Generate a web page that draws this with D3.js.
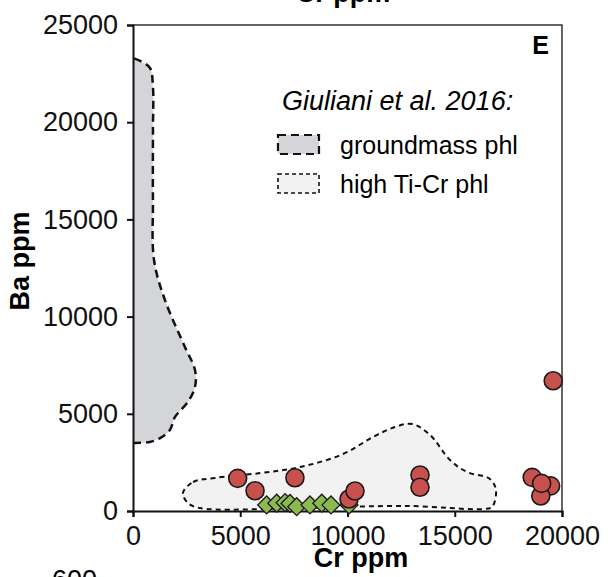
<!DOCTYPE html>
<html>
<head>
<meta charset="utf-8">
<script src="https://cdn.jsdelivr.net/npm/d3@7"></script>
<style>
  body { margin: 0; background: #fff; }
  svg { display: block; font-family: "Liberation Sans", Arial, sans-serif; }
  .axis path, .axis line { stroke: #111; stroke-width: 2px; }
  .axis text { font-size: 27px; fill: #111; }
</style>
</head>
<body>
<div id="chart"></div>
<script>
/* data: Cr (ppm) vs Ba (ppm) */
var xTicks = [0, 5000, 10000, 15000, 20000];
var yTicks = [0, 5000, 10000, 15000, 20000, 25000];

// Giuliani et al. 2016 fields
var groundmassField = [
  [0, 3500], [790, 3550], [1260, 3750], [1720, 4170], [1960, 4840], [2560, 5610],
  [2890, 6380], [2890, 7250], [2420, 8440], [1490, 10850], [980, 12910],
  [930, 16000], [930, 19600], [930, 21810], [790, 22790], [330, 23150], [0, 23300]
];
var highTiCrField = [
  [2330, 930], [2800, 1490], [3820, 1700], [5920, 1950], [7790, 2260], [9790, 2930],
  [11190, 3810], [12210, 4320], [13010, 4480], [13850, 3910], [14780, 2620],
  [15570, 2010], [16640, 1650], [16920, 1080], [16740, 210], [16320, 100],
  [12770, 260], [7790, 150], [3120, 150], [2560, 410]
];

// red circles
var circleCr = [4880, 5690, 7550, 10070, 10350, 13380, 13380, 19590, 18610, 19470, 19010, 19050];
var circleBa = [1680, 1040, 1710, 620, 1030, 1850, 1220, 6700, 1730, 1290, 770, 1420];

// green diamonds
var diamondCr = [6230, 6700, 7090, 7320, 7630, 8250, 8800, 9230, 10070];
var diamondBa = [310, 400, 430, 390, 220, 310, 400, 310, 310];

var legendTitle = "Giuliani et al. 2016:";
var legendLabels = ["groundmass phl", "high Ti-Cr phl"];

var width = 616, height = 577;
var margin = {top: 25, right: 54, bottom: 66, left: 133};

var svg = d3.select("#chart").append("svg")
    .attr("width", width)
    .attr("height", height);

var x = d3.scaleLinear().domain([0, 20000]).range([margin.left, width - margin.right]);
var y = d3.scaleLinear().domain([0, 25000]).range([height - margin.bottom, margin.top]);

var redFill = "#c8504d", greenFill = "#8dba50";

// fields
var smooth = d3.line()
    .x(function(d) { return x(d[0]); })
    .y(function(d) { return y(d[1]); });

svg.append("path")
    .attr("d", smooth.curve(d3.curveCatmullRom)(groundmassField) + "Z")
    .attr("fill", "#d4d5d8")
    .attr("stroke", "none");
svg.append("path")
    .attr("d", smooth.curve(d3.curveCatmullRom)(groundmassField))
    .attr("fill", "none")
    .attr("stroke", "#111")
    .attr("stroke-width", 2.5)
    .attr("stroke-dasharray", "8,5");

svg.append("path")
    .attr("d", smooth.curve(d3.curveCatmullRomClosed)(highTiCrField))
    .attr("fill", "#f2f2f2")
    .attr("stroke", "#111")
    .attr("stroke-width", 2)
    .attr("stroke-dasharray", "5,4");

// frame (top + right)
svg.append("path")
    .attr("d", "M" + x(0) + "," + y(25000) + "H" + x(20000) + "V" + y(0))
    .attr("fill", "none")
    .attr("stroke", "#333")
    .attr("stroke-width", 1.5);

// axes
svg.append("g").attr("class", "axis")
    .attr("transform", "translate(0," + y(0) + ")")
    .call(d3.axisBottom(x).tickValues(xTicks).tickSize(6).tickPadding(9).tickFormat(d3.format("d")));

svg.append("g").attr("class", "axis")
    .attr("transform", "translate(" + x(0) + ",0)")
    .call(d3.axisLeft(y).tickValues(yTicks).tickSize(6).tickPadding(9).tickFormat(d3.format("d")));

// diamonds
svg.selectAll(".dia").data(diamondCr).enter()
    .append("path")
    .attr("class", "dia")
    .attr("d", d3.symbol(d3.symbolSquare, 160))
    .attr("transform", function(d, i) {
        return "translate(" + x(d) + "," + y(diamondBa[i]) + ") rotate(45)";
    })
    .attr("fill", greenFill)
    .attr("stroke", "#1a1a1a")
    .attr("stroke-width", 1.3);

// circles
svg.selectAll(".dot").data(circleCr).enter()
    .append("circle")
    .attr("class", "dot")
    .attr("cx", function(d) { return x(d); })
    .attr("cy", function(d, i) { return y(circleBa[i]); })
    .attr("r", 9)
    .attr("fill", redFill)
    .attr("stroke", "#1a1a1a")
    .attr("stroke-width", 1.6);

// axis titles
svg.append("text")
    .attr("x", 361)
    .attr("y", 567)
    .attr("text-anchor", "middle")
    .attr("font-size", 27).attr("font-weight", "bold")
    .text("Cr ppm");

svg.append("text")
    .attr("transform", "translate(29,261) rotate(-90)")
    .attr("text-anchor", "middle")
    .attr("font-size", 27).attr("font-weight", "bold")
    .text("Ba ppm");

// cut-off labels from neighbouring panels
svg.append("text")
    .attr("x", 343)
    .attr("y", 2)
    .attr("text-anchor", "middle")
    .attr("font-size", 27).attr("font-weight", "bold")
    .text("Cr ppm");
svg.append("text")
    .attr("x", 97).attr("y", 589)
    .attr("text-anchor", "end")
    .attr("font-size", 27)
    .text("600");

// panel letter
svg.append("text")
    .attr("x", 549).attr("y", 54)
    .attr("text-anchor", "end")
    .attr("font-size", 25).attr("font-weight", "bold")
    .text("E");

// legend
var legend = svg.append("g").attr("transform", "translate(277,0)");
legend.append("text")
    .attr("x", 5).attr("y", 110)
    .attr("font-size", 27).attr("font-style", "italic")
    .text(legendTitle);

var legendStyles = [
  {fill: "#d4d5d8", dash: "8,5", w: 2.2},
  {fill: "#f2f2f2", dash: "4,3", w: 1.6}
];
legendLabels.forEach(function(lbl, i) {
    var yy = 135 + i * 39;
    legend.append("rect")
        .attr("x", 1).attr("y", yy)
        .attr("width", 41).attr("height", 19)
        .attr("fill", legendStyles[i].fill)
        .attr("stroke", "#111")
        .attr("stroke-width", legendStyles[i].w)
        .attr("stroke-dasharray", legendStyles[i].dash);
    legend.append("text")
        .attr("x", 63).attr("y", yy + 19)
        .attr("font-size", 25)
        .text(lbl);
});
</script>
</body>
</html>
